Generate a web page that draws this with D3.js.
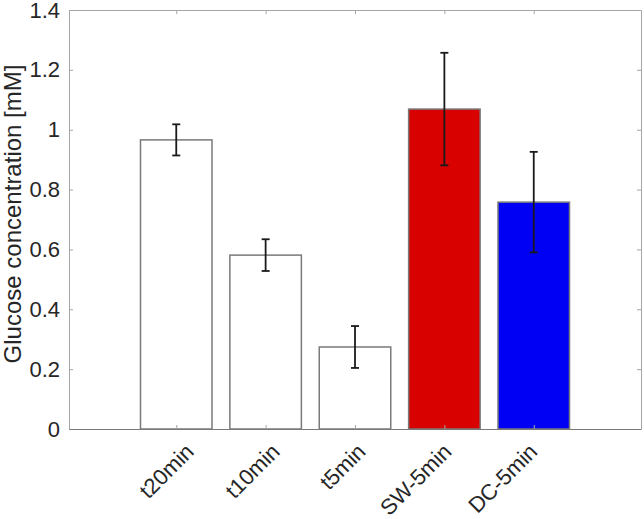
<!DOCTYPE html>
<html>
<head>
<meta charset="utf-8">
<script src="https://cdn.jsdelivr.net/npm/d3@7"></script>
<style>
  body { margin: 0; background: #fff; }
  text { font-family: "Liberation Sans", Arial, sans-serif; fill: #262626; }
</style>
</head>
<body>
<script>
var categories = ['t20min', 't10min', 't5min', 'SW-5min', 'DC-5min'];
var values = [0.966, 0.581, 0.274, 1.069, 0.758];
var errors = [0.052, 0.053, 0.070, 0.188, 0.168];
var colors = ['#ffffff', '#ffffff', '#ffffff', '#d90000', '#0000f5'];
var yTicks = [0, 0.2, 0.4, 0.6, 0.8, 1, 1.2, 1.4];

var width = 644, height = 519;
var padding = { top: 10, bottom: 90, left: 69, right: 3 };
var w = width - padding.left - padding.right,
    h = height - padding.top - padding.bottom;

var svg = d3.select('body').append('svg')
    .attr('width', width)
    .attr('height', height);

var g = svg.append('g')
    .attr('transform', `translate(${padding.left}, ${padding.top})`);

var xScale = d3.scaleLinear().domain([-0.2, 6.2]).range([0, w]);
var yScale = d3.scaleLinear().domain([0, 1.4]).range([h, 0]);
var barW = xScale(0.8) - xScale(0);

var pos = categories.map((c, i) => i + 1);

// bars
g.selectAll('rect.bar')
    .data(values)
    .enter().append('rect')
    .attr('class', 'bar')
    .attr('x', (d, i) => xScale(pos[i]) - barW / 2)
    .attr('y', d => yScale(d))
    .attr('width', barW)
    .attr('height', d => h - yScale(d))
    .attr('fill', (d, i) => colors[i])
    .attr('stroke', '#7a7a7a')
    .attr('stroke-width', 1.5);

// error bars
var capW = 4;
var eb = g.selectAll('g.err')
    .data(values)
    .enter().append('g')
    .attr('class', 'err')
    .attr('stroke', '#1a1a1a')
    .attr('stroke-width', 1.8);
eb.append('line')
    .attr('x1', (d, i) => xScale(pos[i])).attr('x2', (d, i) => xScale(pos[i]))
    .attr('y1', (d, i) => yScale(d + errors[i])).attr('y2', (d, i) => yScale(d - errors[i]));
eb.append('line')
    .attr('x1', (d, i) => xScale(pos[i]) - capW).attr('x2', (d, i) => xScale(pos[i]) + capW)
    .attr('y1', (d, i) => yScale(d + errors[i])).attr('y2', (d, i) => yScale(d + errors[i]));
eb.append('line')
    .attr('x1', (d, i) => xScale(pos[i]) - capW).attr('x2', (d, i) => xScale(pos[i]) + capW)
    .attr('y1', (d, i) => yScale(d - errors[i])).attr('y2', (d, i) => yScale(d - errors[i]));

// axes (MATLAB style: inward ticks, box)
var axColor = '#a6a6a6';
var yAxis = d3.axisLeft(yScale).tickValues(yTicks).tickSizeInner(-4).tickSizeOuter(0)
    .tickPadding(9).tickFormat(d3.format('~g'));
var gy = g.append('g').call(yAxis);
gy.attr('font-size', 22).attr('font-family', '"Liberation Sans", Arial, sans-serif');
gy.select('.domain').attr('stroke', axColor);
gy.selectAll('.tick line').attr('stroke', axColor);
gy.selectAll('.tick text').attr('fill', '#262626');

var gyr = g.append('g').attr('transform', `translate(${w},0)`)
    .call(d3.axisRight(yScale).tickValues(yTicks).tickSizeInner(-4).tickSizeOuter(0).tickFormat(''));
gyr.select('.domain').attr('stroke', axColor);
gyr.selectAll('.tick line').attr('stroke', axColor);

var xAxis = d3.axisBottom(xScale).tickValues(pos).tickSizeInner(-4).tickSizeOuter(0).tickFormat('');
var gx = g.append('g').attr('transform', `translate(0,${h})`).call(xAxis);
gx.select('.domain').attr('stroke', '#7a7a7a');
gx.selectAll('.tick line').attr('stroke', axColor);

var gxt = g.append('g').call(d3.axisTop(xScale).tickValues(pos).tickSizeInner(-4).tickSizeOuter(0).tickFormat(''));
gxt.select('.domain').attr('stroke', axColor);
gxt.selectAll('.tick line').attr('stroke', axColor);

// rotated category labels (label anchors drift slightly left of the ticks in the original)
var labelX = d3.scaleLinear().domain([1, 5]).range([xScale(1) + 19, xScale(5) + 5]);
g.selectAll('text.cat')
    .data(categories)
    .enter().append('text')
    .attr('class', 'cat')
    .attr('font-size', 22)
    .attr('text-anchor', 'end')
    .attr('transform', (d, i) => `translate(${labelX(pos[i])},${h + 24}) rotate(-45)`)
    .text(d => d);

// y label
svg.append('text')
    .attr('font-size', 24)
    .attr('text-anchor', 'middle')
    .attr('transform', `translate(21,214) rotate(-90)`)
    .text('Glucose concentration [mM]');
</script>
</body>
</html>
